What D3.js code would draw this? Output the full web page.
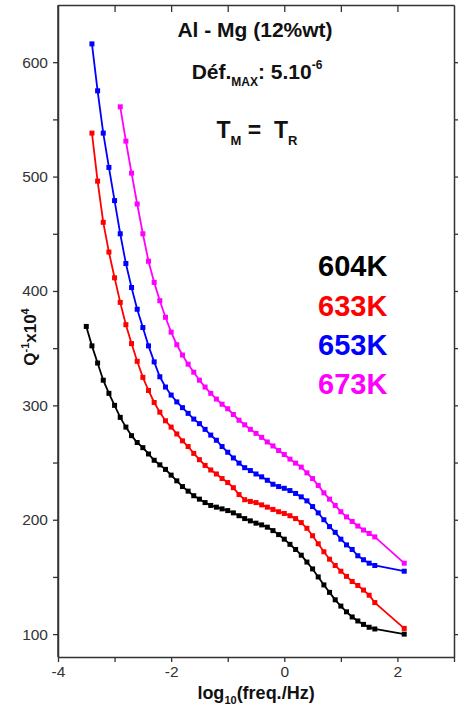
<!DOCTYPE html>
<html><head><meta charset="utf-8">
<script src="https://cdn.jsdelivr.net/npm/d3@7/dist/d3.min.js"></script>
<style>
html,body{margin:0;padding:0;background:#fff;}
svg{display:block;font-family:"Liberation Sans",Arial,sans-serif;}
</style></head>
<body><svg id="c" width="458" height="706"></svg>
<script>
// log10(freq/Hz) sampling points
const logFreq = [-3.5,-3.4,-3.3,-3.2,-3.1,-3.0,-2.9,-2.8,-2.7,-2.6,-2.5,-2.4,-2.3,-2.2,-2.1,-2.0,-1.9,-1.8,-1.7,-1.6,-1.5,-1.4,-1.3,-1.2,-1.1,-1.0,-0.9,-0.8,-0.7,-0.6,-0.5,-0.4,-0.3,-0.2,-0.1,0.0,0.1,0.2,0.3,0.4,0.5,0.6,0.7,0.8,0.9,1.0,1.1,1.2,1.3,1.4,1.5,1.6,2.12];

const q604 = [369,352,337,322,310.5,300,289.5,281,273.5,267.5,263,257.5,252,248,244,239,234,229,225,221,218,215,212.5,211,209.5,208,206,203.5,201,199,197,195.5,193.5,190.5,187,183,178.5,174,169,163,157,150,143,136.5,130,124.5,119.5,115,111.5,108.5,106,104.5,100];
const q633 = [null,538,496,460,434,411.5,390,370.5,354,338.5,324.5,313,302.5,294,286.5,281,275,269,264,258,252.5,247.5,243.5,240,236,232.5,228,222,217.5,216,215,213,211,209,207,205.5,203.5,201,197.5,192.5,186,179,172,165.5,160,155,150.5,146,142.5,138.5,134,127.6,105];
const q653 = [null,616,575,538,508,479,450,424,403,384,368,352,338,325,316,309,303,298,293,288,284,279,274,269.5,264,259,254,249.5,245.5,243,240,237.5,234.5,231,229,227.5,225.5,223,220,216.5,211.5,206,200,194,189,183,178,174,168.5,165,162,160,155];
const q673 = [null,null,null,null,null,null,561,531,503,476,450,426,407.5,391.5,377,364,353,344,336,329,322,316,310.5,305.5,301,297,292,287,283,279,275.5,272,268,264.5,260.5,257,253,249.5,246,241,236,230,223.5,218,212.5,207,202.5,198.5,194.5,191,188,185,162];

const seriesNames = ["604K","633K","653K","673K"];
const seriesColors = ["#000000","#ff0000","#0000ff","#ff00ff"];
const seriesValues = [q604,q633,q653,q673];

const xTicksMajor = [-4,-2,0,2];
const xTicksAll = [-4,-3,-2,-1,0,1,2,3];
const yTicksMajor = [100,200,300,400,500,600];
const yTicksAll = [100,150,200,250,300,350,400,450,500,550,600];

const svg = d3.select("#c");
const L=58,R=454,T=5,B=657;
const x = d3.scaleLinear().domain([-4,3]).range([L,R]);
const y = d3.scaleLinear().domain([80,650]).range([B,T]);
const axisCol="#333";

// frame axes
const gB = svg.append("g").attr("transform",`translate(0,${B})`)
  .call(d3.axisBottom(x).tickValues(xTicksAll).tickSizeInner(5).tickSizeOuter(0)
  .tickFormat(d=> xTicksMajor.includes(d)? String(d):""));
const gT = svg.append("g").attr("transform",`translate(0,${T})`)
  .call(d3.axisBottom(x).tickValues(xTicksAll.slice(1,-1)).tickSizeInner(7).tickSizeOuter(0).tickFormat(""));
const gL = svg.append("g").attr("transform",`translate(${L},0)`)
  .call(d3.axisLeft(y).tickValues(yTicksAll).tickSizeInner(5).tickSizeOuter(0)
  .tickFormat(d=> yTicksMajor.includes(d)? String(d):""));
const gR = svg.append("g").attr("transform",`translate(${R},0)`)
  .call(d3.axisLeft(y).tickValues(yTicksAll).tickSizeInner(-7).tickSizeOuter(0).tickFormat(""));
[gB,gT,gL,gR].forEach(g=>{
  g.select(".domain").attr("stroke",axisCol).attr("stroke-width",1.5);
  g.selectAll(".tick line").attr("stroke",axisCol).attr("stroke-width",1.3);
  g.selectAll("text").attr("fill","#333").attr("font-size",15.5).attr("font-family","Liberation Sans, Arial, sans-serif");
});
gB.selectAll("text").attr("dy","0.8em");
gL.selectAll("text").attr("dx","-2");
svg.append("line").attr("x1",L).attr("x2",L).attr("y1",T).attr("y2",B).attr("stroke",axisCol).attr("stroke-width",1.5);

// curves
const line = d3.line().x(d=>x(d[0])).y(d=>y(d[1]));
seriesValues.forEach((vals,i)=>{
  const pts = logFreq.map((f,j)=>[f,vals[j]]).filter(d=>d[1]!=null);
  const g = svg.append("g");
  g.append("path").datum(pts).attr("d",line).attr("fill","none")
    .attr("stroke",seriesColors[i]).attr("stroke-width",1.8);
  g.selectAll("rect").data(pts).join("rect")
    .attr("x",d=>x(d[0])-2.5).attr("y",d=>y(d[1])-2.5)
    .attr("width",5).attr("height",5).attr("fill",seriesColors[i]);
});

// legend
const legY=[276,316,355,394];
seriesNames.forEach((n,i)=>{
  svg.append("text").attr("x",318).attr("y",legY[i]).attr("font-size",29).attr("font-weight","bold")
    .attr("fill",seriesColors[i]).text(n);
});

// annotations
svg.append("text").attr("x",255).attr("y",37).attr("text-anchor","middle")
  .attr("font-size",21).attr("font-weight","bold").attr("fill","#111").text("Al - Mg (12%wt)");
const t2 = svg.append("text").attr("x",257).attr("y",79).attr("text-anchor","middle")
  .attr("font-size",21).attr("font-weight","bold").attr("fill","#111");
t2.append("tspan").text("Déf.");
t2.append("tspan").attr("font-size",12).attr("dy",7).text("MAX");
t2.append("tspan").attr("dy",-7).text(": 5.10");
t2.append("tspan").attr("font-size",12).attr("dy",-10).text("-6");
const t3 = svg.append("text").attr("x",257).attr("y",138).attr("text-anchor","middle")
  .attr("font-size",23).attr("font-weight","bold").attr("fill","#111").style("white-space","pre");
t3.append("tspan").text("T");
t3.append("tspan").attr("font-size",13).attr("dy",7).text("M");
t3.append("tspan").attr("dy",-7).text(" =  T");
t3.append("tspan").attr("font-size",13).attr("dy",7).text("R");

// axis titles
const xl = svg.append("text").attr("x",256).attr("y",699).attr("text-anchor","middle")
  .attr("font-size",18).attr("font-weight","bold").attr("fill","#111");
xl.append("tspan").text("log");
xl.append("tspan").attr("font-size",11).attr("dy",5).text("10");
xl.append("tspan").attr("dy",-5).text("(freq./Hz)");
const yl = svg.append("text").attr("transform","translate(36,337) rotate(-90)").attr("text-anchor","middle")
  .attr("font-size",17).attr("font-weight","bold").attr("fill","#111");
yl.append("tspan").text("Q");
yl.append("tspan").attr("font-size",11).attr("dy",-7).text("-1");
yl.append("tspan").attr("dy",7).text("x10");
yl.append("tspan").attr("font-size",11).attr("dy",-7).text("4");
</script></body></html>
